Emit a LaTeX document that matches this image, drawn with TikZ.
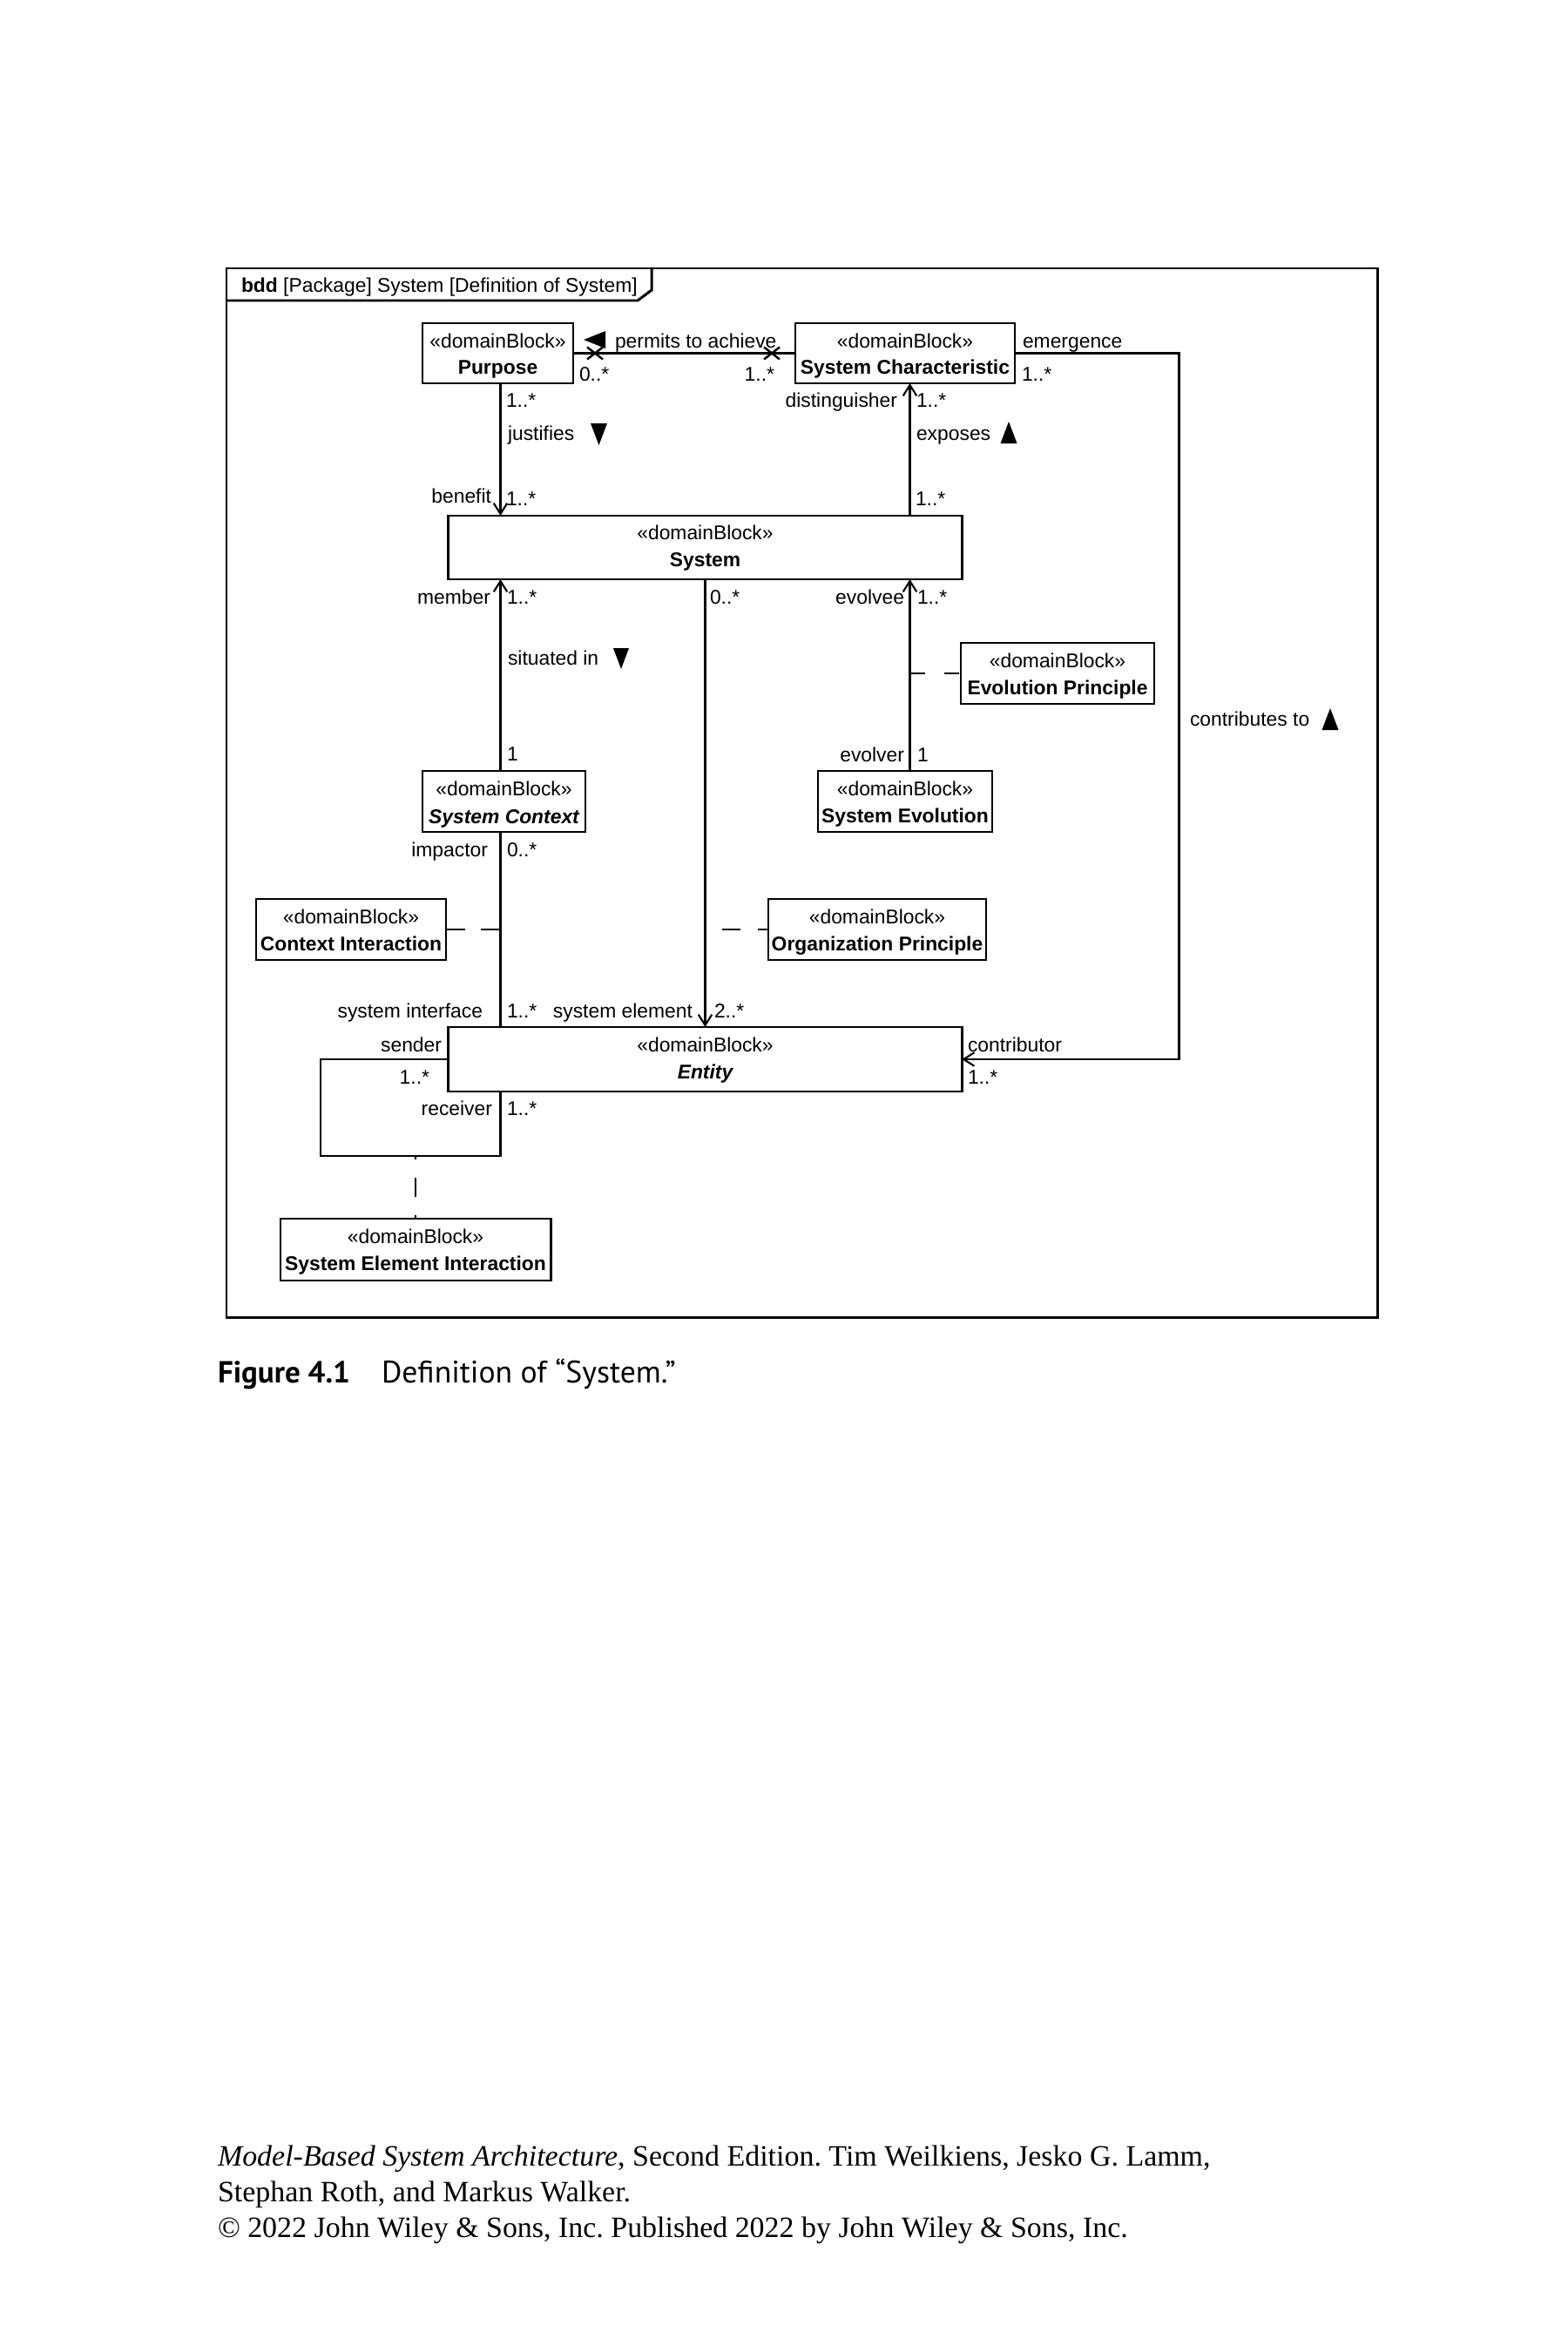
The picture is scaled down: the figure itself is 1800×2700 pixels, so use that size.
\documentclass[tikz,border=0pt]{standalone}
\usepackage{fontspec}
\setmainfont{Liberation Sans}
\newfontfamily\capfont{PT Sans}
\newfontfamily\bookfont{Liberation Serif}
\usetikzlibrary{arrows.meta}
\frenchspacing
\newcommand\dblk[8]{%
  \node[blk, minimum width=#4, minimum height=#5] (#1) at (#2,#3) {};
  \node[stereo] (#1s) at (#2,#6) {«domainBlock»};
  \node[bname] (#1n) at (#2,#7) {#8};
}
\begin{document}
\begin{tikzpicture}[x=0.01cm,y=-0.01cm,
  every node/.style={inner sep=0pt, outer sep=0pt},
  dfont/.style={font=\fontsize{6.5pt}{7.8pt}\selectfont},
  blk/.style={draw, line width=0.8pt, rectangle},
  stereo/.style={dfont, anchor=base},
  bname/.style={anchor=base, font=\fontsize{6.5pt}{7.8pt}\selectfont\bfseries},
  lw/.style={dfont, anchor=base west},
  le/.style={dfont, anchor=base east},
  conn/.style={line width=0.6pt},
  nav/.style={conn, -{Straight Barb[length=3.5pt,width=4.4pt]}},
  cross/.style={line width=0.7pt},
  framestyle/.style={line width=0.85pt},
  footstyle/.style={anchor=base west, font=\bookfont\fontsize{9.65pt}{11.6pt}\selectfont},
]
\fill[white] (0,0) rectangle (1800,2700);
\useasboundingbox (0,0) rectangle (1800,2700);

% frame
\draw[framestyle] (260,308) rectangle (1581,1512);
\draw[framestyle] (260,345) -- (732,345) -- (748,333) -- (748,308);
\node[lw] (bddlbl) at (277,335) {\textbf{bdd} [Package] System [Definition of System]};

% blocks
\dblk{pur}{571.5}{405.5}{1.73cm}{0.69cm}{399}{429}{Purpose}
\dblk{sc}{1039}{405.5}{2.52cm}{0.69cm}{399}{429}{System Characteristic}
\dblk{sys}{809.5}{628.5}{5.89cm}{0.73cm}{619}{650}{System}
\dblk{sctx}{578.5}{920}{1.87cm}{0.70cm}{913}{945}{\itshape System Context}
\dblk{sev}{1039}{920}{2.00cm}{0.70cm}{913}{944}{System Evolution}
\dblk{evp}{1214}{773}{2.22cm}{0.70cm}{766}{797}{Evolution Principle}
\dblk{ci}{403}{1067}{2.18cm}{0.70cm}{1060}{1091}{Context Interaction}
\dblk{op}{1007}{1067}{2.50cm}{0.70cm}{1060}{1091}{Organization Principle}
\dblk{ent}{809.5}{1216}{5.89cm}{0.74cm}{1207}{1238}{\itshape Entity}
\dblk{sei}{477}{1434.5}{3.10cm}{0.71cm}{1427}{1458}{System Element Interaction}

% helper columns
\coordinate (colA) at (574.5,0);
\coordinate (colC) at (1044.5,0);
\coordinate (colD) at (1353.5,0);
\coordinate (loopB) at (368,1327);
\coordinate (xa) at (683,405.5);
\coordinate (xb) at (886,405.5);

% permits to achieve
\draw[conn] (pur.east) -- (sc.west);
\draw[cross] ([shift={(-9,-7)}]xa) -- ([shift={(9,7)}]xa);
\draw[cross] ([shift={(-9,7)}]xa) -- ([shift={(9,-7)}]xa);
\draw[cross] ([shift={(-9,-7)}]xb) -- ([shift={(9,7)}]xb);
\draw[cross] ([shift={(-9,7)}]xb) -- ([shift={(9,-7)}]xb);
\fill (670,390) -- (695,380) -- (695,400) -- cycle;
\node[lw] (l1) at (706,399) {permits to achieve};
\node[lw] (l2) at (665,437) {0..*};
\node[le] (l3) at (889,437) {1..*};

% justifies
\draw[nav] (colA |- pur.south) -- (colA |- sys.north);
\node[lw] (l4) at (581,467) {1..*};
\node[lw] (l5) at (583,505) {justifies};
\fill (678,486) -- (697,486) -- (687.5,511) -- cycle;
\node[le] (l6) at (564,577) {benefit};
\node[lw] (l7) at (581,580) {1..*};

% exposes
\draw[nav] (colC |- sys.north) -- (colC |- sc.south);
\node[le] (l8) at (1030,467) {distinguisher};
\node[lw] (l9) at (1052,467) {1..*};
\node[lw] (l10) at (1052,505) {exposes};
\fill (1148.5,509) -- (1167.5,509) -- (1158,484) -- cycle;
\node[lw] (l11) at (1051,580) {1..*};

% emergence / contributes to
\draw[nav] (sc.east) -- (sc.east -| colD) -- (colD |- ent.east) -- (ent.east);
\node[lw] (l12) at (1174,399) {emergence};
\node[lw] (l13) at (1173,437) {1..*};
\node[lw] (l14) at (1366,833) {contributes to};
\fill (1517.5,838) -- (1536.5,838) -- (1527,813) -- cycle;
\node[lw] (l15) at (1111,1207) {contributor};
\node[lw] (l16) at (1111,1244) {1..*};

% situated in
\draw[nav] (colA |- sctx.north) -- (colA |- sys.south);
\node[le] (l17) at (563,693) {member};
\node[lw] (l18) at (582,693) {1..*};
\node[lw] (l19) at (583,763) {situated in};
\fill (704,744) -- (722,744) -- (713,768) -- cycle;
\node[lw] (l20) at (582,873) {1};

% system element
\draw[nav] (sys.south) -- (ent.north);
\node[lw] (l21) at (815,693) {0..*};
\node[le] (l22) at (795,1168) {system element};
\node[lw] (l23) at (820,1168) {2..*};

% evolution
\draw[nav] (colC |- sev.north) -- (colC |- sys.south);
\node[le] (l24) at (1038,693) {evolvee};
\node[lw] (l25) at (1053,693) {1..*};
\node[le] (l26) at (1038,874) {evolver};
\node[lw] (l27) at (1053,874) {1};

% impactor / system interface
\draw[conn] (colA |- sctx.south) -- (colA |- ent.north);
\node[le] (l28) at (560,983) {impactor};
\node[lw] (l29) at (582,983) {0..*};
\node[le] (l30) at (554,1168) {system interface};
\node[lw] (l31) at (582,1168) {1..*};

% sender / receiver loop
\draw[conn] (ent.west) -- (ent.west -| loopB) -- (loopB) -- (loopB -| colA) -- (colA |- ent.south);
\node[le] (l32) at (507,1207) {sender};
\node[le] (l33) at (493,1244) {1..*};
\node[le] (l34) at (565,1280) {receiver};
\node[lw] (l35) at (582,1280) {1..*};

% association class links
\draw[conn, dash pattern=on 5.1pt off 6pt] (evp.west -| colC) -- (evp.west);
\draw[conn, dash pattern=on 6.3pt off 5.1pt] (ci.east) -- (ci.east -| colA);
\draw[conn, dash pattern=on 6pt off 5.7pt, dash phase=2.6pt] (op.west) -- (op.west -| sys.south);
\draw[conn, dash pattern=on 6.26pt off 6pt, dash phase=5.1pt] (sei.north |- loopB) -- (sei.north);

% caption
\node[anchor=base west, font=\capfont\fontsize{9.95pt}{11.9pt}\selectfont\bfseries] (figno) at (250,1587) {Figure 4.1};
\node[anchor=base west, font=\capfont\fontsize{10.15pt}{12.2pt}\selectfont] (figcap) at (438,1587) {Definition of “System.”};

% footer
\node[footstyle] (foot1) at (250,2486) {\textit{Model-Based System Architecture}, Second Edition. Tim Weilkiens, Jesko G. Lamm,};
\node[footstyle] (foot2) at (250,2527) {Stephan Roth, and Markus Walker.};
\node[footstyle] (foot3) at (250,2568) {© 2022 John Wiley \& Sons, Inc. Published 2022 by John Wiley \& Sons, Inc.};
\end{tikzpicture}
\end{document}
